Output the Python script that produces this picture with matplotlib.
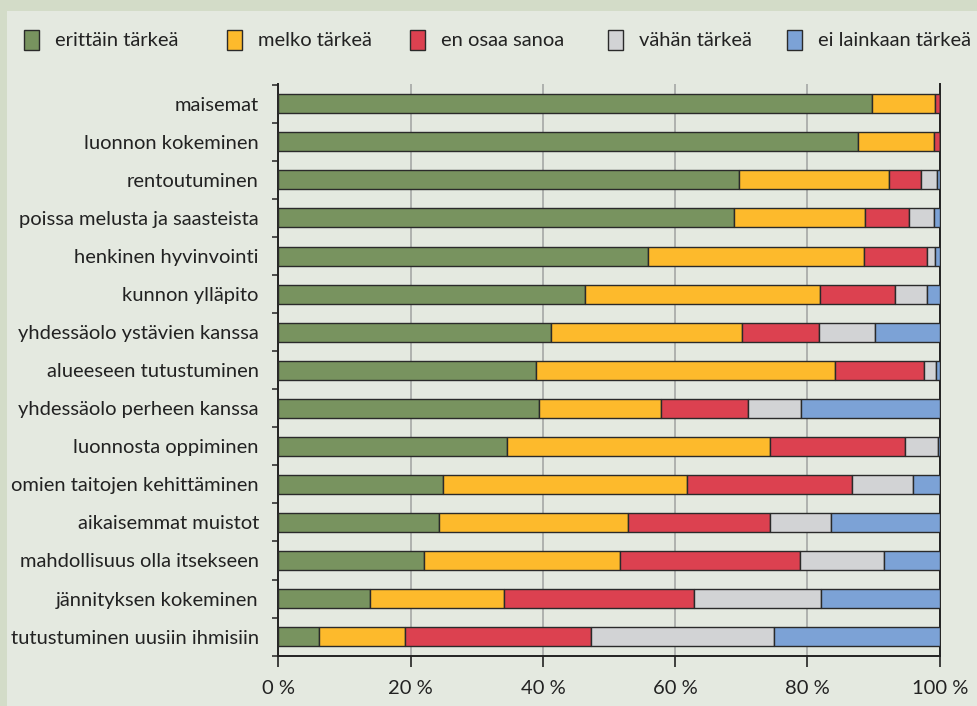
import matplotlib
matplotlib.use("Agg")
import matplotlib.pyplot as plt
from matplotlib.patches import Rectangle
import numpy as np

categories = [
    "maisemat",
    "luonnon kokeminen",
    "rentoutuminen",
    "poissa melusta ja saasteista",
    "henkinen hyvinvointi",
    "kunnon ylläpito",
    "yhdessäolo ystävien kanssa",
    "alueeseen tutustuminen",
    "yhdessäolo perheen kanssa",
    "luonnosta oppiminen",
    "omien taitojen kehittäminen",
    "aikaisemmat muistot",
    "mahdollisuus olla itsekseen",
    "jännityksen kokeminen",
    "tutustuminen uusiin ihmisiin",
]
series_names = ["erittäin tärkeä", "melko tärkeä", "en osaa sanoa", "vähän tärkeä", "ei lainkaan tärkeä"]
erittain = [89.7, 87.6, 69.7, 68.9, 55.9, 46.3, 41.3, 39.0, 39.4, 34.5, 24.9, 24.3, 22.0, 13.8, 6.2]
melko = [9.6, 11.5, 22.6, 19.8, 32.7, 35.6, 28.8, 45.2, 18.4, 39.9, 36.9, 28.5, 29.6, 20.3, 13.0]
en_osaa = [0.7, 0.9, 4.8, 6.7, 9.4, 11.4, 11.7, 13.4, 13.2, 20.4, 24.9, 21.5, 27.2, 28.8, 28.1]
vahan = [0.0, 0.0, 2.5, 3.7, 1.3, 4.7, 8.4, 1.9, 8.0, 4.9, 9.2, 9.2, 12.8, 19.1, 27.7]
ei_lainkaan = [0.0, 0.0, 0.4, 0.9, 0.7, 2.0, 9.8, 0.5, 21.0, 0.3, 4.1, 16.5, 8.4, 18.0, 25.0]
x_ticks = [0, 20, 40, 60, 80, 100]
x_tick_labels = ["0 %", "20 %", "40 %", "60 %", "80 %", "100 %"]

colors = ["#78935f", "#fdba2c", "#dc4150", "#d2d3d5", "#7ca2d6"]
outer_bg = "#d3dcc8"
inner_bg = "#e4e9e0"
FONT = ["Lato", "DejaVu Sans"]
FS = 14.5

W, H = 978, 706
fig = plt.figure(figsize=(W / 100, H / 100), dpi=100, facecolor=outer_bg)
fig.patches.append(Rectangle((7 / W, 0), 1 - 7 / W, 1 - 11 / H, transform=fig.transFigure,
                             facecolor=inner_bg, edgecolor="none", zorder=-10))

left, right, top, bottom = 278.3, 939.8, 84, 656
ax = fig.add_axes([left / W, 1 - bottom / H, (right - left) / W, (bottom - top) / H])
ax.set_facecolor("none")
ax.set_zorder(5)

data = [erittain, melko, en_osaa, vahan, ei_lainkaan]
y = np.arange(len(categories))
cum = np.zeros(len(categories))
for vals, col, name in zip(data, colors, series_names):
    vals = np.array(vals)
    ax.barh(y, vals, left=cum, height=0.5, color=col, edgecolor="#2a2a2a",
            linewidth=1.0, label=name, zorder=3)
    cum += vals

ax.set_xlim(0, 100)
ax.set_ylim(14.51, -0.52)
ax.set_xticks(x_ticks)
ax.set_xticklabels(x_tick_labels, fontsize=FS, family=FONT, color="#222222")
ax.set_yticks(y)
ax.set_yticklabels(categories, fontsize=FS, family=FONT, color="#222222")
ax.tick_params(axis="y", which="major", length=0, pad=14)
ax.set_yticks(np.arange(len(categories) + 1) - 0.5, minor=True)
ax.tick_params(axis="y", which="minor", length=4, width=1.2, color="#333333", direction="out")
ax.tick_params(axis="x", length=8, width=1.2, color="#222222", direction="out", pad=9)

ax.grid(axis="x", color="#a5a8a6", linewidth=1.2, zorder=1)
ax.spines["top"].set_visible(False)
for s in ["left", "right", "bottom"]:
    ax.spines[s].set_color("#222222")
    ax.spines[s].set_linewidth(1.4)

# legend
sq_x = [24, 227, 410, 608, 787]
for hx, c, name in zip(sq_x, colors, series_names):
    fig.patches.append(Rectangle((hx / W, 1 - 50 / H), 15 / W, 20 / H, transform=fig.transFigure,
                                 facecolor=c, edgecolor="#2a2a2a", linewidth=1.0, zorder=2))
    fig.text((hx + 31) / W, 1 - 41 / H, name, fontsize=FS, family=FONT, color="#222222",
             va="center", ha="left")

fig.savefig("out.png", dpi=100, facecolor=outer_bg)
